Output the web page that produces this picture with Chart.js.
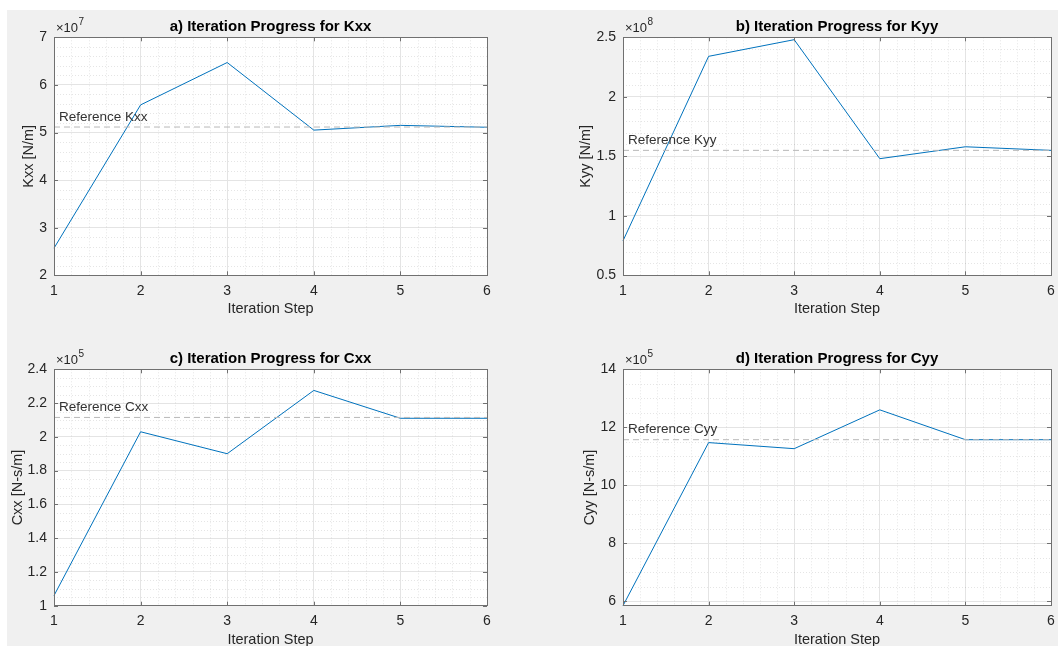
<!DOCTYPE html>
<html>
<head>
<meta charset="utf-8">
<title>Iteration Progress</title>
<script src="https://cdn.jsdelivr.net/npm/chart.js@4.4.0/dist/chart.umd.min.js"></script>
<style>
  html, body { margin: 0; padding: 0; overflow: hidden; background: #fff; width: 1058px; height: 646px; }
  #fig { position: absolute; left: 7px; top: 10px; width: 1051px; height: 636px; background: #f0f0f0; }
  .panel { position: absolute; }
</style>
</head>
<body>
<div id="fig"></div>
<div class="panel" style="left:0;top:0;width:529px;height:323px"><canvas id="chartA"></canvas></div>
<div class="panel" style="left:529px;top:0;width:529px;height:323px"><canvas id="chartB"></canvas></div>
<div class="panel" style="left:0;top:323px;width:529px;height:330px"><canvas id="chartC"></canvas></div>
<div class="panel" style="left:529px;top:323px;width:529px;height:330px"><canvas id="chartD"></canvas></div>
<script>
const steps = [1, 2, 3, 4, 5, 6];

const kxx = [2.57e7, 5.58e7, 6.47e7, 5.05e7, 5.15e7, 5.11e7];
const kyy = [0.79e8, 2.34e8, 2.48e8, 1.48e8, 1.58e8, 1.55e8];
const cxx = [1.06e5, 2.03e5, 1.90e5, 2.275e5, 2.11e5, 2.11e5];
const cyy = [5.84e5, 11.47e5, 11.26e5, 12.6e5, 11.57e5, 11.57e5];

const refKxx = 5.115e7;
const refKyy = 1.55e8;
const refCxx = 2.115e5;
const refCyy = 11.57e5;

// tick labels, in units of the axis exponent
const kxxTicks = [2, 3, 4, 5, 6, 7];
const kyyTicks = [0.5, 1, 1.5, 2, 2.5];
const cxxTicks = [1, 1.2, 1.4, 1.6, 1.8, 2, 2.2, 2.4];
const cyyTicks = [6, 8, 10, 12, 14];

Chart.defaults.font.family = "'Liberation Sans', Arial, Helvetica, sans-serif";
Chart.defaults.color = '#262626';

const BOX = '#707070';
const fmt = v => String(parseFloat(v.toPrecision(6)));

// matlab look: white axes, minor dotted grid, full box, inward ticks,
// title centred on the axes, x10^n label, reference text
const matlabAxes = {
  id: 'matlabAxes',
  beforeDraw(chart) {
    const { ctx, chartArea: a } = chart;
    ctx.save();
    ctx.fillStyle = '#fff';
    ctx.fillRect(a.left, a.top, a.right - a.left, a.bottom - a.top);
    ctx.restore();
  },
  beforeDatasetsDraw(chart, args, o) {
    const { ctx, chartArea: a, scales: { x, y } } = chart;
    ctx.save();
    ctx.strokeStyle = 'rgba(0,0,0,0.10)';
    ctx.lineWidth = 1;
    ctx.setLineDash([1, 2]);
    for (let i = Math.ceil(x.min / o.xMinor); i * o.xMinor < x.max; i++) {
      const v = i * o.xMinor;
      if (Math.abs(v - Math.round(v)) < 1e-6) continue;
      const px = Math.round(x.getPixelForValue(v)) + 0.5;
      ctx.beginPath(); ctx.moveTo(px, a.top); ctx.lineTo(px, a.bottom); ctx.stroke();
    }
    const ys = o.yMinor * o.scale;
    for (let i = Math.ceil(y.min / ys - 1e-9); i * ys < y.max; i++) {
      const v = i * ys;
      if (o.yTicks.some(t => Math.abs(t * o.scale - v) < ys * 1e-3)) continue;
      const py = Math.round(y.getPixelForValue(v)) + 0.5;
      ctx.beginPath(); ctx.moveTo(a.left, py); ctx.lineTo(a.right, py); ctx.stroke();
    }
    ctx.restore();
  },
  afterDatasetsDraw(chart, args, o) {
    const { ctx, chartArea: a, scales: { x, y } } = chart;
    ctx.save();
    ctx.strokeStyle = BOX;
    ctx.lineWidth = 1;
    ctx.strokeRect(Math.round(a.left) + 0.5, Math.round(a.top) + 0.5,
      Math.round(a.right - a.left), Math.round(a.bottom - a.top));
    ctx.beginPath();
    steps.forEach(s => {
      const px = Math.round(x.getPixelForValue(s)) + 0.5;
      ctx.moveTo(px, a.bottom); ctx.lineTo(px, a.bottom - 4);
      ctx.moveTo(px, a.top); ctx.lineTo(px, a.top + 4);
    });
    o.yTicks.forEach(t => {
      const py = Math.round(y.getPixelForValue(t * o.scale)) + 0.5;
      ctx.moveTo(a.left, py); ctx.lineTo(a.left + 4, py);
      ctx.moveTo(a.right, py); ctx.lineTo(a.right - 4, py);
    });
    ctx.stroke();

    // title
    ctx.fillStyle = '#000';
    ctx.textAlign = 'center';
    ctx.textBaseline = 'middle';
    ctx.font = "bold 15px 'Liberation Sans', Arial, sans-serif";
    ctx.fillText(o.title, (a.left + a.right) / 2, a.top - 10.5);

    // exponent
    ctx.fillStyle = '#262626';
    ctx.textBaseline = 'alphabetic';
    ctx.textAlign = 'left';
    ctx.font = "13px 'Liberation Sans', Arial, sans-serif";
    const base = '\u00d710';
    ctx.fillText(base, a.left + 2, a.top - 5);
    const w = ctx.measureText(base).width;
    ctx.font = "10px 'Liberation Sans', Arial, sans-serif";
    ctx.fillText(String(o.exp), a.left + 2 + w + 0.5, a.top - 12);

    // reference label
    ctx.font = "13.5px 'Liberation Sans', Arial, sans-serif";
    ctx.fillStyle = '#333';
    ctx.textBaseline = 'middle';
    ctx.fillText(o.refLabel, x.getPixelForValue(steps[0]) + 5, y.getPixelForValue(o.ref) - 10);
    ctx.restore();
  }
};

function panel(id, cfg) {
  const scale = Math.pow(10, cfg.exp);
  return new Chart(document.getElementById(id), {
    type: 'line',
    data: {
      datasets: [
        {
          label: cfg.refLabel,
          data: [{ x: steps[0], y: cfg.ref }, { x: steps[steps.length - 1], y: cfg.ref }],
          borderColor: '#b8b8b8',
          borderWidth: 1,
          borderDash: [6, 4],
          pointRadius: 0
        },
        {
          label: cfg.ylabel,
          data: steps.map((s, i) => ({ x: s, y: cfg.values[i] })),
          borderColor: '#0072bd',
          borderWidth: 1,
          pointRadius: 0,
          tension: 0,
          clip: false
        }
      ]
    },
    options: {
      responsive: true,
      maintainAspectRatio: false,
      animation: false,
      layout: { padding: cfg.pad },
      plugins: {
        legend: { display: false },
        tooltip: { enabled: false },
        title: { display: false },
        matlabAxes: {
          title: cfg.title,
          xMinor: 0.2,
          yMinor: cfg.yMinor,
          yTicks: cfg.ticks,
          scale: scale,
          exp: cfg.exp,
          ref: cfg.ref,
          refLabel: cfg.refLabel
        }
      },
      scales: {
        x: {
          type: 'linear',
          min: steps[0],
          max: steps[steps.length - 1],
          afterBuildTicks: s => { s.ticks = steps.map(v => ({ value: v })); },
          afterFit: s => { s.height = cfg.xh; s.paddingRight = 0; },
          ticks: { padding: 7.4, font: { size: 14 } },
          grid: { color: '#e4e4e4', drawTicks: false },
          border: { display: false },
          title: { display: true, text: 'Iteration Step', font: { size: 14.5 }, padding: 0 }
        },
        y: {
          type: 'linear',
          min: cfg.min !== undefined ? cfg.min : cfg.ticks[0] * scale,
          max: cfg.ticks[cfg.ticks.length - 1] * scale,
          afterBuildTicks: s => { s.ticks = cfg.ticks.map(v => ({ value: v * scale })); },
          afterFit: s => { s.width = cfg.yw; },
          ticks: { padding: 7, font: { size: 14 }, callback: v => fmt(v / scale) },
          grid: { color: '#e4e4e4', drawTicks: false },
          border: { display: false },
          title: { display: true, text: cfg.ylabel, font: { size: 14.5 }, padding: 0 }
        }
      }
    },
    plugins: [matlabAxes]
  });
}

panel('chartA', {
  title: 'a) Iteration Progress for Kxx', ylabel: 'Kxx [N/m]', refLabel: 'Reference Kxx',
  values: kxx, ref: refKxx, ticks: kxxTicks, exp: 7, yMinor: 0.2,
  pad: { left: 20.3, right: 42, top: 37.3, bottom: 5 }, yw: 33.7, xh: 42.7
});
panel('chartB', {
  title: 'b) Iteration Progress for Kyy', ylabel: 'Kyy [N/m]', refLabel: 'Reference Kyy',
  values: kyy, ref: refKyy, ticks: kyyTicks, exp: 8, yMinor: 0.1,
  pad: { left: 48.3, right: 7, top: 37.3, bottom: 5 }, yw: 45.7, xh: 42.7
});
panel('chartC', {
  title: 'c) Iteration Progress for Cxx', ylabel: 'Cxx [N-s/m]', refLabel: 'Reference Cxx',
  values: cxx, ref: refCxx, ticks: cxxTicks, exp: 5, yMinor: 0.05,
  pad: { left: 9.3, right: 42, top: 46.3, bottom: 4.3 }, yw: 44.7, xh: 43
});
panel('chartD', {
  title: 'd) Iteration Progress for Cyy', ylabel: 'Cyy [N-s/m]', refLabel: 'Reference Cyy',
  values: cyy, ref: refCyy, ticks: cyyTicks, exp: 5, yMinor: 0.5, min: Math.min(...cyy),
  pad: { left: 52.3, right: 7, top: 46.3, bottom: 4.3 }, yw: 41.7, xh: 43
});
</script>
</body>
</html>
